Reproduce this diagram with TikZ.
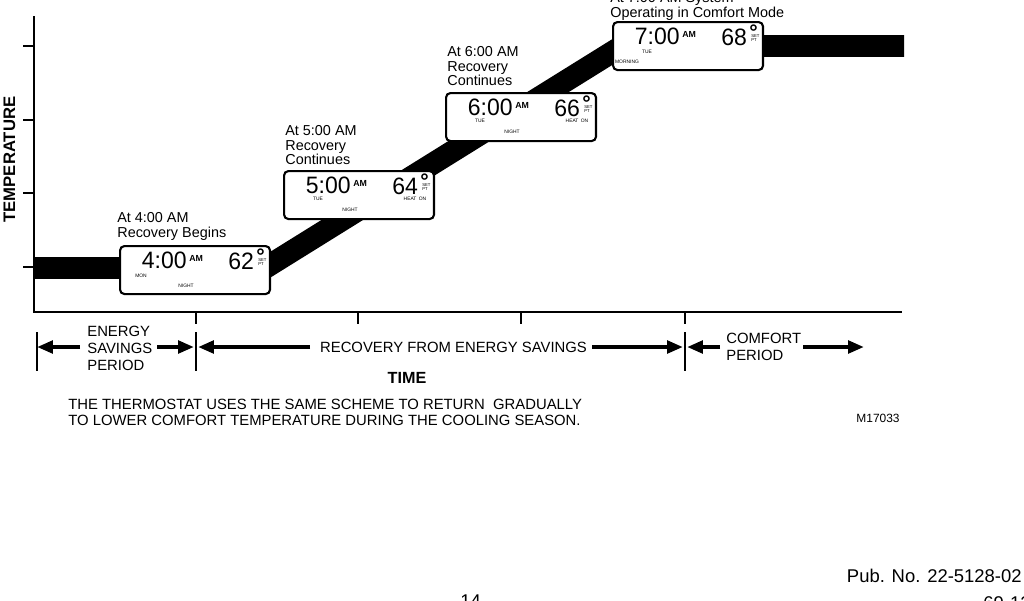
\documentclass[tikz,border=0pt]{standalone}
\usepackage{fontspec}
\setmainfont{Liberation Sans}
\usetikzlibrary{arrows.meta}
\begin{document}
\begin{tikzpicture}[x=0.02cm,y=-0.02cm,
  axis/.style={line width=1.2pt},
  band/.style={line width=12.5pt, line join=miter},
  lcd/.style={draw, line width=1.2pt, rounded corners=2.5pt, fill=white,
    minimum width=3cm, minimum height=0.96cm, inner sep=0, anchor=north west},
  lbl/.style={font=\fontsize{8.2}{8.3}\selectfont, align=left, anchor=north west, inner sep=0},
  axlbl/.style={font=\fontsize{8.45}{9.6}\selectfont, align=left, inner sep=0},
  digits/.style={font=\fontsize{13.5}{13.5}\selectfont, inner sep=0, xscale=0.97},
  am/.style={font=\bfseries\fontsize{5}{5}\selectfont, inner sep=0, anchor=base west},
  deg/.style={font=\bfseries\fontsize{12}{12}\selectfont, inner sep=0, anchor=north west},
  tiny/.style={font=\fontsize{2.8}{3.2}\selectfont, inner sep=0, align=left},
  sett/.style={font=\fontsize{2.4}{2.6}\selectfont, inner sep=0, align=left, anchor=north west},
  arr/.style={line width=2.3pt, -{Triangle[length=9pt,width=7pt]}},
  bar/.style={line width=1.1pt}
]
\useasboundingbox (0,0) rectangle (1024,600);
\clip (0,0) rectangle (1024,600);

% temperature band
\draw[band] (34,268) -- (265,268) -- (622,46) -- (904,46);

% axes
\draw[axis] (34,16) -- (34,312) -- (902,312);
\foreach \y in {46,120,193,267} \draw[axis] (23,\y) -- (34,\y);
\foreach \x in {196,358,521,685} \draw[axis] (\x,312) -- (\x,324);

\node[font=\bfseries\fontsize{9.5}{9.5}\selectfont, rotate=90, inner sep=0] (tlab) at (9.5,159.5) {TEMPERATURE};
\node[font=\bfseries\fontsize{9.2}{9.2}\selectfont, inner sep=0] (time) at (407,378) {TIME};

% LCD 1
\begin{scope}[shift={(119,245)}]
  \node[lcd] (b1) at (0,0) {};
  \node[digits, anchor=base east] (b1t) at (68,23) {4:00};
  \node[am] (b1am) at (70,16) {AM};
  \node[digits, anchor=base west] (b1p) at (109,24) {62};
  \node[deg] (b1d) at (137,3) {°};
  \node[sett] (b1s) at (139,13) {SET\\PT};
  \node[tiny] (b1day) at (22,31) {MON};
  \node[tiny] (b1n) at (67,41) {NIGHT};
\end{scope}
% LCD 2
\begin{scope}[shift={(283,170)}]
  \node[lcd] (b2) at (0,0) {};
  \node[digits, anchor=base east] (b2t) at (68,23) {5:00};
  \node[am] (b2am) at (70,16) {AM};
  \node[digits, anchor=base west] (b2p) at (109,24) {64};
  \node[deg] (b2d) at (137,3) {°};
  \node[sett] (b2s) at (139,13) {SET\\PT};
  \node[tiny] (b2day) at (35,29) {TUE};
  \node[tiny] (b2h) at (132,29) {HEAT\enspace ON};
  \node[tiny] (b2n) at (67,40) {NIGHT};
\end{scope}
% LCD 3
\begin{scope}[shift={(445,92)}]
  \node[lcd] (b3) at (0,0) {};
  \node[digits, anchor=base east] (b3t) at (68,23) {6:00};
  \node[am] (b3am) at (70,16) {AM};
  \node[digits, anchor=base west] (b3p) at (109,24) {66};
  \node[deg] (b3d) at (137,3) {°};
  \node[sett] (b3s) at (139,13) {SET\\PT};
  \node[tiny] (b3day) at (35,29) {TUE};
  \node[tiny] (b3h) at (132,29) {HEAT\enspace ON};
  \node[tiny] (b3n) at (67,40) {NIGHT};
\end{scope}
% LCD 4
\begin{scope}[shift={(612,21)}]
  \node[lcd] (b4) at (0,0) {};
  \node[digits, anchor=base east] (b4t) at (68,23) {7:00};
  \node[am] (b4am) at (70,16) {AM};
  \node[digits, anchor=base west] (b4p) at (109,24) {68};
  \node[deg] (b4d) at (137,3) {°};
  \node[sett] (b4s) at (139,13) {SET\\PT};
  \node[tiny] (b4day) at (35,31) {TUE};
  \node[tiny] (b4m) at (15,41) {MORNING};
\end{scope}

% event labels
\node[lbl] (l1) at (117,212) {At 4:00 AM\\Recovery Begins};
\node[lbl] (l2) at (285,125) {At 5:00 AM\\Recovery\\Continues};
\node[lbl] (l3) at (447,46) {At 6:00 AM\\Recovery\\Continues};
\node[lbl] (l4) at (610,-8) {At 7:00 AM System\\Operating in Comfort Mode};

% period bars
\draw[bar] (37,332) -- (37,371);
\draw[bar] (196,332) -- (196,371);
\draw[bar] (685,332) -- (685,371);

\node[axlbl, anchor=north west] (esp) at (87,326) {ENERGY\\SAVINGS\\PERIOD};
\node[axlbl] (rec) at (453.5,347) {RECOVERY FROM ENERGY SAVINGS};
\node[axlbl, anchor=north west] (cp) at (726,333) {COMFORT\\PERIOD};

\coordinate (e1) at (80,347);   \coordinate (t1) at (37,347);
\coordinate (e2) at (157,347);  \coordinate (t2) at (194,347);
\coordinate (e3) at (310,347);  \coordinate (t3) at (198,347);
\coordinate (e4) at (592,347);  \coordinate (t4) at (683,347);
\coordinate (e5) at (720,347);  \coordinate (t5) at (687,347);
\coordinate (e6) at (803,347);  \coordinate (t6) at (864,347);
\draw[arr] (e1) -- (t1);
\draw[arr] (e2) -- (t2);
\draw[arr] (e3) -- (t3);
\draw[arr] (e4) -- (t4);
\draw[arr] (e5) -- (t5);
\draw[arr] (e6) -- (t6);

% notes
\node[font=\fontsize{8.45}{9.1}\selectfont, align=left, anchor=north west, inner sep=0] (note) at (68,399)
  {THE THERMOSTAT USES THE SAME SCHEME TO RETURN\ \ GRADUALLY\\TO LOWER COMFORT TEMPERATURE DURING THE COOLING SEASON.};
\node[font=\fontsize{6.8}{6.8}\selectfont, inner sep=0] (mnum) at (878,418) {M17033};

\node[font=\fontsize{10.5}{10.5}\selectfont, inner sep=0, anchor=base east] (pub) at (1022,582) {Pub. No. 22-5128-02};
\node[font=\fontsize{10.5}{10.5}\selectfont, inner sep=0, anchor=base west] (code) at (983,609) {69-1216};
\node[font=\fontsize{10.5}{10.5}\selectfont, inner sep=0, anchor=base west] (page) at (460,607) {14};
\end{tikzpicture}
\end{document}
